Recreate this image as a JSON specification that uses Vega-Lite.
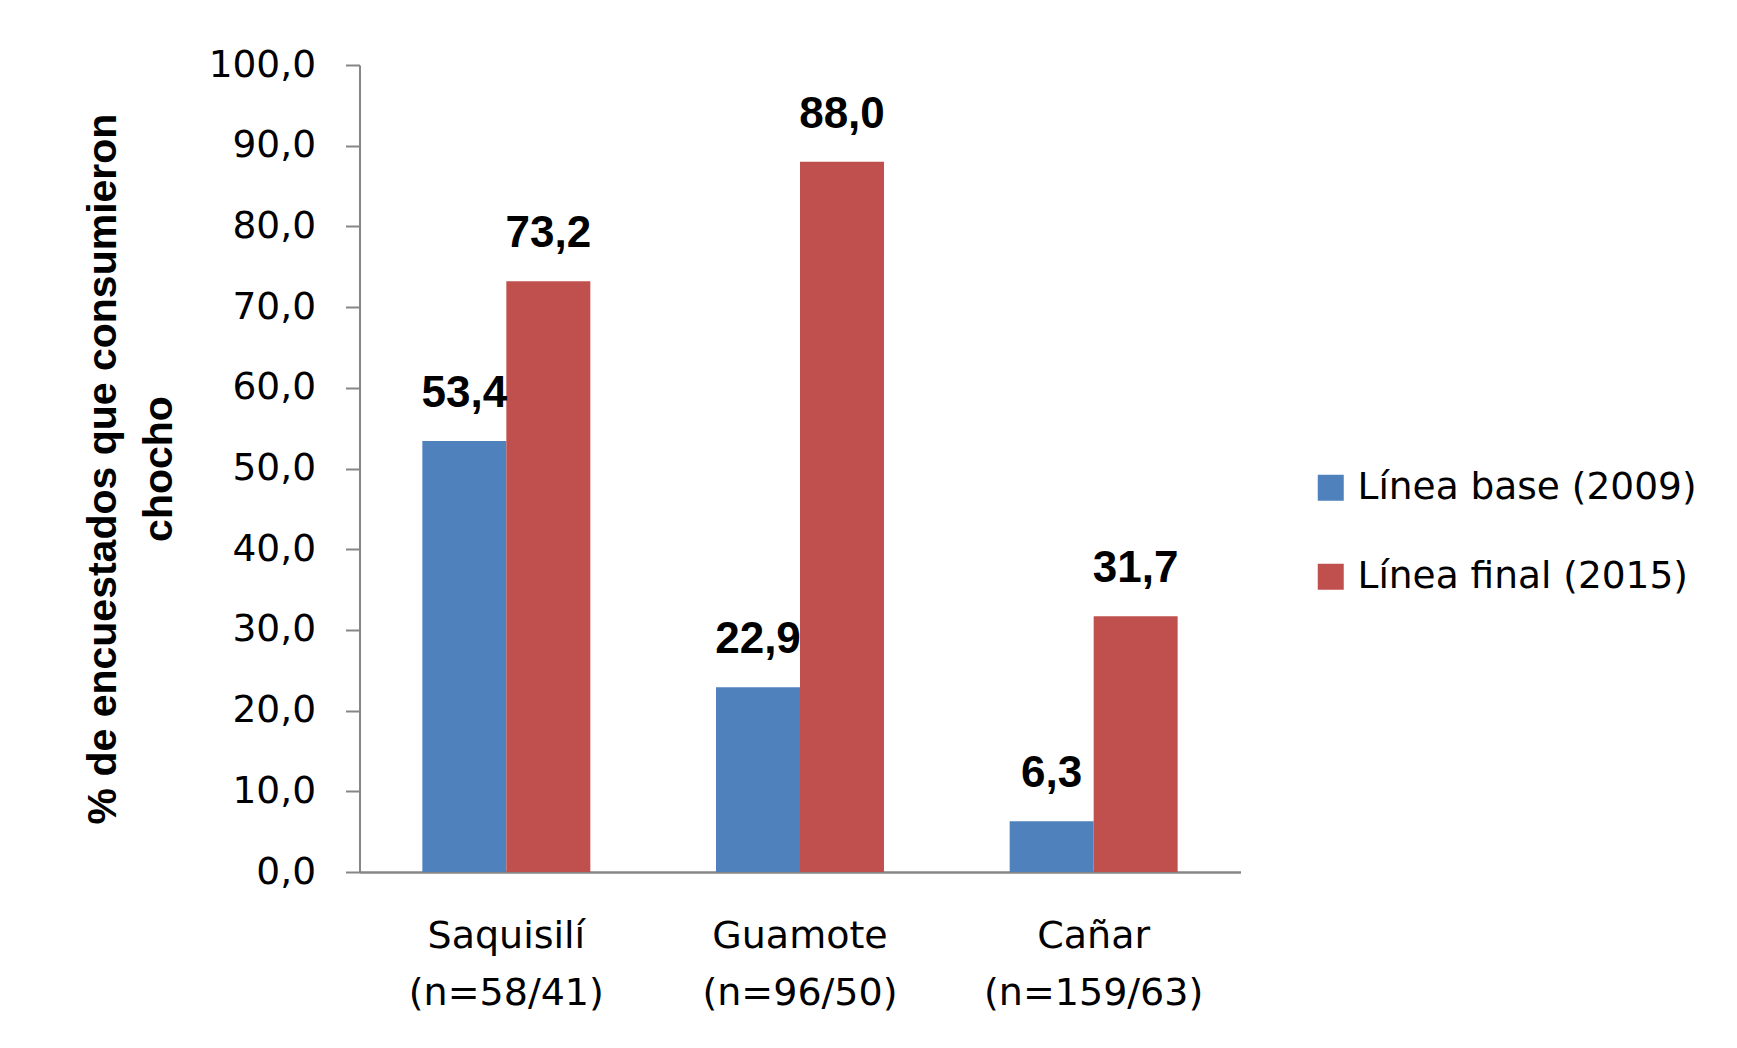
{
  "$schema": "https://vega.github.io/schema/vega-lite/v6.json",
  "width": 881,
  "height": 807,
  "autosize": {"type": "none"},
  "padding": {"left": 359.5, "top": 65, "right": 496.5, "bottom": 176},
  "background": "white",
  "config": {
    "view": {"stroke": null},
    "locale": {"number": {"decimal": ",", "thousands": ".", "grouping": [3], "currency": ["", " €"]}}
  },
  "data": {
    "values": [
      {"sitio": "Saquisilí (n=58/41)", "serie": "Línea base (2009)", "valor": 53.4},
      {"sitio": "Saquisilí (n=58/41)", "serie": "Línea final (2015)", "valor": 73.2},
      {"sitio": "Guamote (n=96/50)", "serie": "Línea base (2009)", "valor": 22.9},
      {"sitio": "Guamote (n=96/50)", "serie": "Línea final (2015)", "valor": 88.0},
      {"sitio": "Cañar (n=159/63)", "serie": "Línea base (2009)", "valor": 6.3},
      {"sitio": "Cañar (n=159/63)", "serie": "Línea final (2015)", "valor": 31.7}
    ]
  },
  "encoding": {
    "x": {
      "field": "sitio",
      "type": "nominal",
      "sort": null,
      "scale": {"paddingInner": 0.428, "paddingOuter": 0.214},
      "axis": {
        "title": null,
        "ticks": false,
        "domainColor": "#868686",
        "domainWidth": 2.5,
        "labelAngle": 0,
        "labelFont": "DejaVu Sans",
        "labelFontSize": 38,
        "labelLineHeight": 57,
        "labelPadding": 45,
        "labelLimit": 0,
        "labelColor": "black",
        "labelExpr": "split(datum.label, ' ')"
      }
    },
    "xOffset": {
      "field": "serie",
      "type": "nominal",
      "sort": null,
      "scale": {"paddingInner": 0, "paddingOuter": 0}
    },
    "y": {
      "field": "valor",
      "type": "quantitative",
      "scale": {"domain": [0, 100], "nice": false},
      "axis": {
        "values": [0, 10, 20, 30, 40, 50, 60, 70, 80, 90, 100],
        "format": ".1f",
        "grid": false,
        "labelFont": "DejaVu Sans",
        "labelFontSize": 37.5,
        "labelColor": "black",
        "labelPadding": 30,
        "tickSize": 14,
        "tickColor": "#868686",
        "tickWidth": 2,
        "domainColor": "#868686",
        "domainWidth": 2,
        "title": ["% de encuestados que consumieron", "chocho"],
        "titleFont": "Liberation Sans",
        "titleFontSize": 41,
        "titleFontWeight": "bold",
        "titleColor": "black",
        "titleLineHeight": 56,
        "titlePadding": 28
      }
    }
  },
  "layer": [
    {
      "mark": {"type": "bar"},
      "encoding": {
        "color": {
          "field": "serie",
          "type": "nominal",
          "sort": null,
          "scale": {"domain": ["Línea base (2009)", "Línea final (2015)"], "range": ["#4F81BD", "#C0504D"]},
          "legend": {
            "orient": "none",
            "legendX": 952.5,
            "legendY": 404,
            "title": null,
            "symbolType": "square",
            "symbolSize": 676,
            "symbolStrokeWidth": 0,
            "labelFont": "DejaVu Sans",
            "labelFontSize": 37.5,
            "labelColor": "black",
            "labelOffset": 8,
            "labelLimit": 0,
            "rowPadding": 50,
            "padding": 0
          }
        }
      }
    },
    {
      "mark": {
        "type": "text",
        "font": "Liberation Sans",
        "fontWeight": "bold",
        "fontSize": 44,
        "baseline": "alphabetic",
        "dy": -34,
        "color": "black"
      },
      "encoding": {
        "text": {"field": "valor", "type": "quantitative", "format": ".1f"}
      }
    }
  ]
}
